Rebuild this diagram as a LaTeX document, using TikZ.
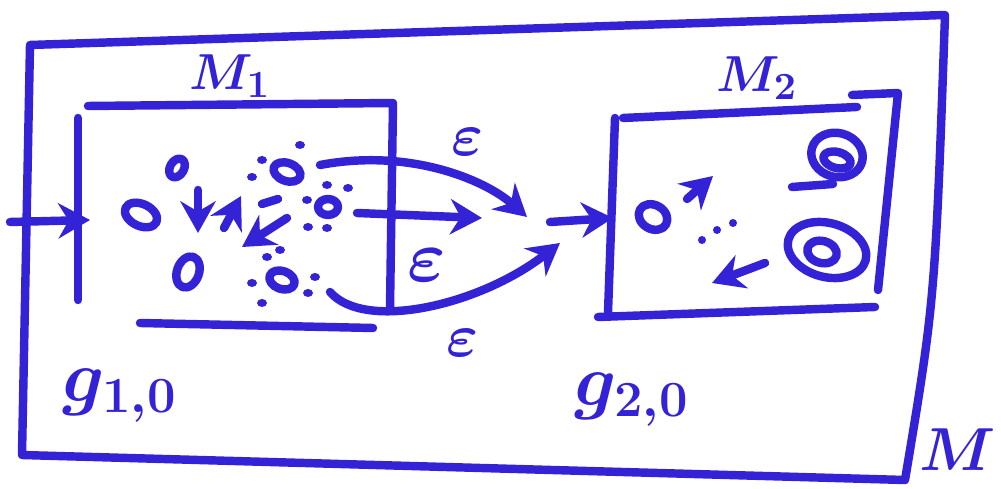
\documentclass[tikz,border=0pt]{standalone}
\usetikzlibrary{arrows.meta}
\definecolor{ink}{RGB}{52,34,214}
\tikzset{
  pen/.style={draw=ink, line width=2.4pt, line cap=round, line join=round},
  arr/.style={pen, -{Stealth[length=9pt,width=10pt]}},
  lbl/.style={text=ink, font=\fontsize{15}{17}\selectfont\boldmath},
  mid lbl/.style={text=ink, font=\fontsize{19}{21}\selectfont\boldmath},
  big lbl/.style={text=ink, font=\fontsize{22}{24}\selectfont\boldmath},
}
\begin{document}
\begin{tikzpicture}[x=0.01cm, y=-0.01cm]
  \useasboundingbox (0,0) rectangle (1001,489);
  % 外側の箱 M
  \coordinate (o1) at (30,45);
  \coordinate (o2) at (945,15);
  \coordinate (o3) at (905,480);
  \coordinate (o4) at (22,455);
  \draw[pen] (o1) -- (o2) .. controls (935,300) .. (o3) -- (o4) -- cycle;
  \node[mid lbl, anchor=east, inner sep=1pt] (mlab) at (1000,450) {$M$};

  % 箱 M_1
  \draw[pen] (88,106) -- (393,103) -- (390,308);
  \draw[pen] (78,118) -- (78,300);
  \draw[pen] (140,323) -- (373,328);
  \node[lbl] (m1lab) at (230,76) {$M_1$};
  \node[big lbl] (g1lab) at (120,396) {$g_{1,0}$};

  % 入力
  \coordinate (src) at (10,222);
  \coordinate (m1in) at (90,220);
  \draw[arr] (src) -- (m1in);

  % M_1 の中の状態
  \draw[pen] (141,215) ellipse [x radius=17, y radius=11, rotate=-25];
  \draw[pen] (177,168) ellipse [x radius=7, y radius=10, rotate=-30];
  \draw[pen] (188,272) ellipse [x radius=11, y radius=16, rotate=-20];
  \coordinate (a1) at (198,190); \coordinate (b1) at (198,233);
  \draw[arr] (a1) -- (b1);
  \coordinate (a2) at (224,228); \coordinate (b2) at (241,196);
  \draw[arr] (a2) -- (b2);
  \coordinate (a3) at (287,218); \coordinate (b3) at (242,247);
  \draw[arr] (a3) -- (b3);
  \draw[pen] (262,204) -- (278,199);

  % 粒子のまわりの点
  \draw[pen] (287,172) ellipse [x radius=14, y radius=9, rotate=-20];
  \draw[pen] (328,207) ellipse [x radius=10, y radius=8];
  \draw[pen] (282,280) ellipse [x radius=13, y radius=9, rotate=-20];
  \foreach \px/\py in {262/160, 252/177, 300/145, 327/185, 348/188,
                       307/200, 308/227, 327/228, 267/257, 280/250,
                       252/283, 315/277, 308/293, 262/303}
    \fill[ink] (\px,\py) ellipse [x radius=5, y radius=4];

  % 三本の矢印 (epsilon)
  \coordinate (p1) at (320,165); \coordinate (q1) at (527,217);
  \coordinate (p2) at (357,213); \coordinate (q2) at (482,218);
  \coordinate (p3) at (330,292); \coordinate (q3) at (560,243);
  \draw[arr] (p1) .. controls (410,148) and (485,180) .. (q1);
  \draw[arr] (p2) -- (q2);
  \draw[arr] (p3) .. controls (365,332) and (480,305) .. (q3);
  \node[mid lbl] (e1) at (468,142) {$\varepsilon$};
  \node[big lbl] (e2) at (427,265) {$\varepsilon$};
  \node[mid lbl] (e3) at (463,343) {$\varepsilon$};

  % M_2 への矢印
  \coordinate (r) at (550,222);
  \coordinate (m2in) at (613,218);
  \draw[arr] (r) -- (m2in);

  % 箱 M_2
  \draw[pen] (623,118) -- (857,107);
  \draw[pen] (852,95) -- (898,93) -- (878,290);
  \draw[pen] (615,118) -- (608,312);
  \draw[pen] (598,317) -- (875,307);
  \node[lbl] (m2lab) at (757,78) {$M_2$};
  \node[big lbl] (g2lab) at (632,400) {$g_{2,0}$};

  % M_2 の中の状態
  \draw[pen] (653,217) ellipse [x radius=15, y radius=12, rotate=-30];
  \coordinate (a4) at (687,199); \coordinate (b4) at (713,176);
  \draw[arr] (a4) -- (b4);
  \foreach \px/\py in {702/240, 717/230, 733/223}
    \fill[ink] (\px,\py) circle (4);
  \coordinate (a5) at (765,263); \coordinate (b5) at (712,283);
  \draw[arr] (a5) -- (b5);
  \draw[pen] (837,155) ellipse [x radius=26, y radius=22, rotate=-15];
  \draw[pen] (837,160) ellipse [x radius=14, y radius=8, rotate=-15];
  \draw[pen] (792,187) -- (833,184);
  \draw[pen] (827,250) ellipse [x radius=40, y radius=27, rotate=-15];
  \draw[pen] (822,252) ellipse [x radius=15, y radius=11, rotate=-15];
\end{tikzpicture}
\end{document}
